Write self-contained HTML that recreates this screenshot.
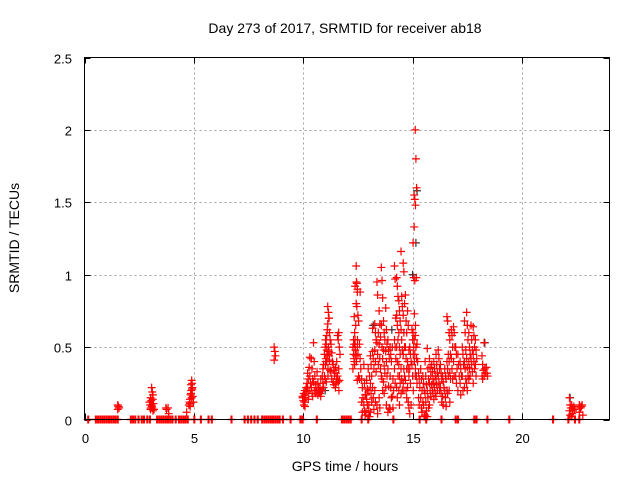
<!DOCTYPE html>
<html><head><meta charset="utf-8"><style>
body{margin:0;background:#fff}
svg{display:block;font-family:"Liberation Sans",sans-serif}
</style></head><body>
<svg id="chart" width="640" height="480" viewBox="0 0 640 480">
<text x="345" y="33" font-size="14" text-anchor="middle" fill="#000">Day 273 of 2017, SRMTID for receiver ab18</text>
<g id="grid"></g>
<g id="ticks"></g>
<g id="marksBlack"></g>
<g id="marksRed"></g>
<rect x="84.5" y="57.5" width="525" height="362" fill="none" stroke="#000" stroke-width="1"/>
<text x="345" y="471" font-size="14" text-anchor="middle">GPS time / hours</text>
<text transform="translate(19,238) rotate(-90)" font-size="14" text-anchor="middle">SRMTID / TECUs</text>
</svg>
<script>
const xTicks=[0,5,10,15,20];
const yTicks=[0,0.5,1,1.5,2,2.5];
const yTickLabels=["0","0.5","1","1.5","2","2.5"];
const zeroHours=[0.15,0.5,0.6,0.7,0.8,0.9,1.0,1.1,1.2,1.3,1.4,1.5,2.1,2.2,2.3,2.45,2.6,2.7,2.85,2.97,3.3,3.4,3.5,3.6,3.7,3.8,3.9,4.0,4.15,4.3,4.4,4.5,4.6,4.7,5.0,5.3,5.65,5.8,6.7,7.3,7.45,7.6,7.75,7.9,8.1,8.2,8.3,8.4,8.5,8.6,8.7,8.8,8.9,9.05,9.4,9.85,9.95,10.6,11.75,11.85,11.95,12.05,12.15,12.65,12.95,14.1,15.3,15.6,16.3,16.95,17.05,17.8,17.9,18.4,19.4,21.4,22.1,22.4,22.6];
const redHours=[1.55,3.0,3.05,3.1,3.15,3.75,3.85,4.7,4.8,4.85,4.9,4.95,8.7,10.0,10.05,10.1,10.2,10.3,10.4,10.5,10.6,10.7,10.8,10.9,11.0,11.05,11.1,11.15,11.2,11.3,11.4,11.5,11.6,11.65,12.3,12.35,12.4,12.45,12.5,12.6,12.7,12.8,12.9,13.0,13.1,13.2,13.3,13.4,13.5,13.6,13.7,13.8,13.9,14.0,14.1,14.2,14.3,14.4,14.5,14.6,14.7,14.8,14.9,15.0,15.05,15.1,15.15,15.2,15.3,15.4,15.5,15.6,15.7,15.8,15.9,16.0,16.1,16.2,16.3,16.4,16.5,16.6,16.7,16.8,16.9,17.0,17.1,17.2,17.3,17.4,17.5,17.6,17.7,17.8,17.9,18.2,18.3,18.4,22.2,22.3,22.4,22.65,22.75];
const redValues=[[.1,.09,.08,.07,.09],[.12,.1,.08],[.15,.13,.09,.07],[.22,.19,.17,.1,.08,.06],[.14,.11,.07],[.08,.07],[.08,.04],[.05],[.1,.12,.09],[.14,.17,.2,.11],[.24,.27,.22,.18,.15],[.21,.16,.12,.25],[.5,.47,.44,.41],
[.16,.13,.1,.15],[.18,.12,.09],[.2,.15,.22,.17],[.25,.22,.28,.19,.32,.14],[.36,.3,.25,.2,.43],[.42,.35,.28,.22,.18,.16],[.53,.4,.3,.26,.2],[.24,.2,.33,.18],[.17,.21,.19,.25],[.22,.28,.2,.18,.16],[.3,.25,.22,.2,.35,.38],[.45,.5,.4,.3,.28,.42],[.55,.52,.48,.38,.26],[.58,.45,.35,.4,.62,.3],[.78,.74,.7,.66,.5,.44],[.7,.6,.55,.47,.41,.34],[.52,.46,.4,.33,.28],[.38,.34,.3,.26,.24],[.36,.32,.28,.22,.25,.4],[.3,.26,.2,.58,.55],[.6,.5,.45,.35,.27],
[.5,.45,.4,.35,.55,.71],[.52,.6,.48,.42,.38],[.5,.44,.4,.55,.65,.95,.92],[1.06,.94,.9,.8,.78,.55,.45],[.5,.72,.68,.88,.45,.3,.27],[.52,.42,.35,.28,.88],[.28,.22,.15,.12,.05],[.38,.25,.17,.1,.06,.03],[.17,.14,.1,.05,.27,.21],[.06,.2,.3,.35,.1,.02],[.44,.38,.3,.25,.18,.12,.05],[.47,.42,.35,.22,.15,.07,.63],[.66,.6,.55,.48,.4,.33,.2,.12],[.95,.86,.6,.53,.45,.38,.1,.04],[.75,.66,.57,.52,.42,.35,.15,.08],[1.05,.96,.84,.65,.5,.42,.3,.28,.2],[.68,.6,.55,.48,.37,.32,.26,.18],[.77,.62,.52,.47,.4,.3,.22,.1],[.55,.48,.42,.35,.23,.08,.05],[.5,.45,.4,.3,.22,.15,.07],[.5,.28,.2,.16,.08],[1.06,.97,.7,.55,.5,.42,.35,.25],[.98,.92,.85,.72,.65,.55,.5,.4,.3,.22,.15],[.82,.75,.68,.6,.5,.45,.38,.3,.25,.2,.1],[1.16,.85,.78,.62,.55,.48,.35,.28,.2,.18],[1.08,1.02,.8,.72,.6,.5,.45,.35,.3,.25,.2],[.86,.68,.6,.5,.42,.35,.27,.2,.15],[.75,.65,.48,.4,.35,.3,.22,.12,.08],[.5,.45,.4,.35,.25,.1,.04],[.62,.55,.45,.38,.3,.2],[1.22,.98,.73,.6,.5,.4],[1.55,1.52,1.48,1.33,.96,.65,.55,.45,.35],[2.0,1.8,1.6,.58,.5,.42,.3],[.98,.52,.4,.3,.25],[.32,.28,.22,.15,.1],[.35,.28,.2,.15,.08,.05],[.3,.25,.2,.12,.1,.02],[.4,.3,.24,.18,.12,.06,.03],[.49,.35,.28,.2,.15,.08,.02],[.42,.36,.3,.25,.2,.16,.1],[.38,.33,.28,.24,.2,.18],[.4,.35,.3,.25,.22,.18,.14],[.45,.38,.32,.28,.24,.2,.16],[.48,.42,.35,.3,.25,.2],[.38,.32,.28,.22,.18,.12],[.3,.26,.22,.16,.1],[.35,.3,.28,.2,.15,.09],[.71,.68,.45,.4,.35,.3,.2,.18],[.6,.55,.45,.4,.32,.28,.2,.12],[.62,.58,.5,.42,.35,.28],[.64,.6,.5,.4,.3],[.5,.45,.35,.3,.25],[.45,.38,.3,.2],[.4,.35,.3,.25,.17],[.5,.45,.38,.3,.2],[.68,.6,.48,.4,.35,.28,.22],[.74,.65,.55,.42,.36,.3,.25,.2],[.6,.5,.45,.4,.35,.3,.28],[.65,.55,.48,.42,.38,.33],[.64,.58,.5,.45,.4,.35,.25],[.55,.48,.42,.38,.3],[.44,.38,.34,.3,.28],[.53,.35,.32,.3],[.36,.32,.3],
[.15,.1,.08,.06,.03],[.1,.08,.06,.02,.04],[.09,.07],[.1,.09,.08,.05],[.09,.1,.03]];
const blackHours=[15.2,15.15,14.05,22.2,18.3,13.2,16.0,11.0,15.0];
const blackValues=[1.58,1.22,0.62,0.15,0.53,0.65,0.35,0.2,1.0];

const X0=84.5,X1=609.5,Y0=419.5,Y1=57.5,XMAX=24,YMAX=2.5;
function xs(v){return X0+(v/XMAX)*(X1-X0);}
function ys(v){return Y0-(v/YMAX)*(Y0-Y1);}
const NS="http://www.w3.org/2000/svg";
function mk(tag,attrs,parent){const e=document.createElementNS(NS,tag);for(const k in attrs)e.setAttribute(k,attrs[k]);parent.appendChild(e);return e;}
const grid=document.getElementById('grid'),ticks=document.getElementById('ticks');
xTicks.forEach(t=>{
  const x=Math.round(xs(t))+0.5;
  if(t>0){const g=mk('line',{x1:x,x2:x,y1:Y1,y2:Y0,stroke:'#a0a0a0','stroke-dasharray':'2,3'},grid);
    
    }
  mk('line',{x1:x,x2:x,y1:Y0,y2:Y0-6,stroke:'#000'},ticks);
  mk('line',{x1:x,x2:x,y1:Y1,y2:Y1+6,stroke:'#000'},ticks);
  const l=mk('text',{x:x,y:443,'font-size':13,'text-anchor':'middle'},ticks);
  l.textContent=String(t);
  
  
});
yTicks.forEach((t,i)=>{
  const y=Math.round(ys(t))+0.5;
  if(t>0&&t<YMAX){const g=mk('line',{x1:X0,x2:X1,y1:y,y2:y,stroke:'#a0a0a0','stroke-dasharray':'2,3'},grid);
    
    }
  mk('line',{x1:X0,x2:X0+6,y1:y,y2:y,stroke:'#000'},ticks);
  mk('line',{x1:X1,x2:X1-6,y1:y,y2:y,stroke:'#000'},ticks);
  const l=mk('text',{x:72,y:y+5,'font-size':13,'text-anchor':'end'},ticks);
  l.textContent=yTickLabels[i];
  
  
});
function plus(parent,h,v,color){
  const x=xs(h),y=ys(v);
  const p=mk('path',{d:`M${x-4},${y}H${x+4}M${x},${y-4}V${y+4}`,stroke:color,'stroke-width':1.2,fill:'none'},parent);
  
  
}
const gb=document.getElementById('marksBlack'),gr=document.getElementById('marksRed');
blackHours.forEach((h,i)=>plus(gb,h,blackValues[i],'#333'));
zeroHours.forEach(h=>{plus(gr,h,0,'#ff0000');plus(gr,h+0.04,0,'#ff0000');});
redHours.forEach((h,i)=>redValues[i].forEach((v,j)=>plus(gr,h+((j%3)-1)*0.03,v,'#ff0000')));
</script>
</body></html>
